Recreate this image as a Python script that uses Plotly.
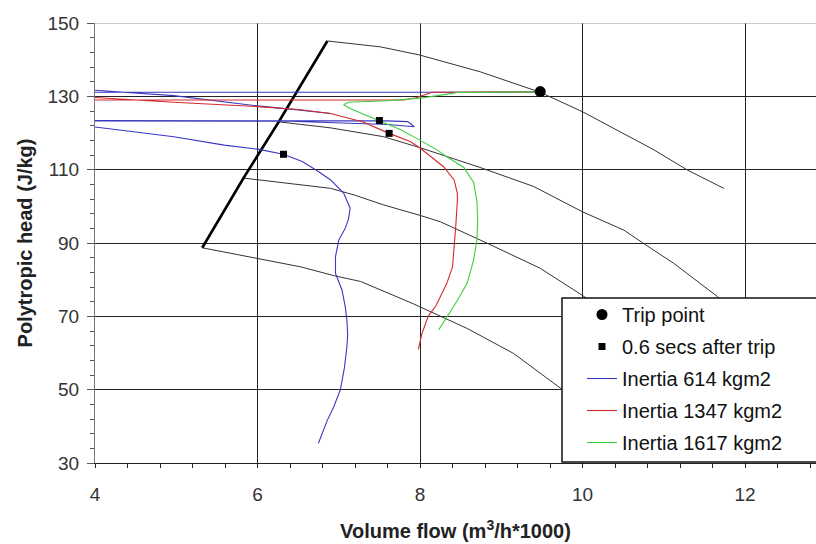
import plotly.graph_objects as go

# ---------------- data ----------------
# Surge line (thick black)
surge_x = [5.32, 5.83, 6.26, 6.86]
surge_y = [88.7, 107.8, 123.0, 145.1]

# Speed lines (thin black)
speedA_x = [6.86, 7.51, 7.99, 8.74, 9.48, 10.0, 10.88, 11.29, 11.74]
speedA_y = [145.1, 143.5, 141.3, 136.7, 131.1, 125.8, 115.4, 109.9, 104.9]
speedB_x = [6.28, 6.9, 7.55, 8.0, 8.74, 9.4, 10.0, 10.51, 10.75, 11.12, 11.66, 11.95]
speedB_y = [123.0, 121.4, 119.0, 116.0, 110.6, 105.4, 98.5, 93.5, 89.9, 84.5, 75.4, 70.0]
speedC_x = [5.83, 6.53, 6.9, 7.19, 7.55, 7.99, 8.25, 8.83, 9.36, 9.48, 10.02, 10.3]
speedC_y = [107.7, 105.8, 104.9, 103.1, 100.4, 97.6, 95.8, 89.9, 84.5, 83.1, 75.4, 71.0]
speedD_x = [5.32, 6.0, 6.53, 6.94, 7.27, 7.92, 8.58, 9.15, 9.73, 10.1]
speedD_y = [88.7, 85.8, 83.5, 81.1, 79.5, 73.4, 66.7, 59.9, 50.4, 45.0]

# Inertia 614 kgm2 (blue)
blue_x = [9.45, 8.5, 3.9, 3.9, 4.97, 6.0, 6.5, 6.9, None,
          3.9, 6.5, 7.6, 7.85, 7.93, 7.6, 7.0, 6.4, 3.9, 3.9,
          4.97, 5.59, 6.0, 6.32, 6.55, 6.75, 6.9, 7.06, 7.14, 7.12, 7.08, 7.0,
          6.96, 6.96, 7.04, 7.08, 7.1, 7.11, 7.1, 7.07, 7.02, 6.94, 6.86, 6.75]
blue_y = [131.2, 131.1, 131.1, 131.8, 130.2, 127.4, 126.3, 125.3, None,
          123.4, 123.4, 123.3, 123.1, 121.7, 122.3, 122.8, 123.2, 123.3, 121.9,
          119.0, 116.7, 115.6, 114.2, 112.2, 109.5, 107.2, 103.6, 99.5, 96.5, 94.0, 90.8,
          86.3, 81.7, 77.2, 72.6, 69.0, 65.0, 61.7, 56.0, 50.0, 45.4, 41.7, 35.4]

# Inertia 1347 kgm2 (red)
red_x = [9.45, 8.15, 7.95, 7.8, 3.9, 3.9, 4.97, 6.0, 6.5, 6.9, 7.3, 7.62, 7.88,
         8.0, 8.29, 8.42, 8.46, 8.46, 8.44, 8.42, 8.40, 8.33, 8.2, 8.1, 8.02, 7.98]
red_y = [131.2, 131.1, 129.6, 129.0, 129.0, 129.8, 128.4, 127.2, 126.4, 125.3, 123.0, 119.9, 117.7,
         115.9, 110.8, 107.2, 103.5, 101.7, 94.5, 88.1, 83.5, 79.0, 73.0, 70.0, 65.0, 61.0]

# Inertia 1617 kgm2 (green)
green_x = [9.45, 8.45, 8.4, 8.0, 7.6, 7.12, 7.06, 7.14, 7.3, 7.5, 7.75, 7.97, 8.21,
           8.33, 8.54, 8.66, 8.70, 8.71, 8.70, 8.66, 8.58, 8.45, 8.36, 8.27, 8.23]
green_y = [131.2, 131.05, 130.8, 129.5, 128.8, 128.4, 127.7, 126.7, 125.2, 123.4, 121.0, 118.4, 115.4,
           113.5, 110.6, 106.5, 101.5, 96.0, 90.8, 85.4, 79.0, 74.0, 71.0, 68.0, 66.3]

trip_x = [9.48]
trip_y = [131.3]
after_x = [6.32, 7.5, 7.62]
after_y = [114.2, 123.4, 119.9]

x_ticks = [4, 6, 8, 10, 12]
y_ticks = [30, 50, 70, 90, 110, 130, 150]

FONT = "Liberation Sans, Arial, sans-serif"

fig = go.Figure()

for sx, sy in [(speedA_x, speedA_y), (speedB_x, speedB_y),
               (speedC_x, speedC_y), (speedD_x, speedD_y)]:
    fig.add_trace(go.Scatter(x=sx, y=sy, mode="lines", showlegend=False,
                             line=dict(color="#333333", width=1), hoverinfo="skip"))
fig.add_trace(go.Scatter(x=surge_x, y=surge_y, mode="lines", showlegend=False,
                         line=dict(color="#000000", width=2.6), hoverinfo="skip"))

fig.add_trace(go.Scatter(x=blue_x, y=blue_y, mode="lines", name="Inertia 614 kgm2",
                         line=dict(color="#3838c0", width=1.1), legendrank=3,
                         legendgroup="g3", connectgaps=False))
fig.add_trace(go.Scatter(x=red_x, y=red_y, mode="lines", name="Inertia 1347 kgm2",
                         line=dict(color="#d42a2a", width=1.1), legendrank=4,
                         legendgroup="g4"))
fig.add_trace(go.Scatter(x=green_x, y=green_y, mode="lines", name="Inertia 1617 kgm2",
                         line=dict(color="#3ccf3c", width=1.1), legendrank=5,
                         legendgroup="g5"))

fig.add_trace(go.Scatter(x=trip_x, y=trip_y, mode="markers", name="Trip point",
                         marker=dict(symbol="circle", size=11, color="black"),
                         legendrank=1, legendgroup="g1"))
fig.add_trace(go.Scatter(x=after_x, y=after_y, mode="markers", name="0.6 secs after trip",
                         marker=dict(symbol="square", size=7, color="black"),
                         legendrank=2, legendgroup="g2"))

W, H = 816, 544
L, R, T, B = 95, 0, 23, 81
pw = W - L - R
ph = H - T - B

def px_x(p):
    return (p - L) / pw

def px_y(p):
    return (H - B - p) / ph

fig.update_layout(
    width=W, height=H,
    margin=dict(l=L, r=R, t=T, b=B, pad=0),
    paper_bgcolor="white", plot_bgcolor="white",
    font=dict(family=FONT, color="#222222"),
    showlegend=True,
    legend=dict(
        x=px_x(582), y=px_y(295), xanchor="left", yanchor="top",
        bgcolor="rgba(0,0,0,0)", borderwidth=0,
        font=dict(family=FONT, size=20, color="#111111"),
        traceorder="grouped", tracegroupgap=3,
    ),
    xaxis=dict(
        range=[4, 4 + pw / 81.25],
        tickmode="array", tickvals=x_ticks, ticktext=[str(v) for v in x_ticks],
        ticks="outside", ticklen=4, tickcolor="#222222",
        ticklabelstandoff=10,
        tickfont=dict(family=FONT, size=19, color="#333333"),
        showgrid=True, gridcolor="#222222", gridwidth=1,
        showline=True, linecolor="#222222", linewidth=1.2,
        zeroline=False,
        minor=dict(dtick=0.4, tick0=4, ticks="outside", ticklen=4,
                   tickcolor="#222222", showgrid=False),
        title=dict(text="Volume flow (m<sup>3</sup>/h*1000)", standoff=20,
                   font=dict(family=FONT, size=20, color="#222222", weight="bold")),
        automargin=False,
    ),
    yaxis=dict(
        range=[30, 150],
        tickmode="array", tickvals=y_ticks, ticktext=[str(v) for v in y_ticks],
        ticks="outside", ticklen=7, tickcolor="#555555",
        ticklabelstandoff=4,
        tickfont=dict(family=FONT, size=19, color="#333333"),
        showgrid=True, gridcolor="#222222", gridwidth=1,
        showline=True, linecolor="#777777", linewidth=1.2,
        zeroline=False,
        minor=dict(dtick=4, tick0=30, ticks="outside", ticklen=4,
                   tickcolor="#555555", showgrid=False),
        title=dict(text="Polytropic head (J/kg)", standoff=9,
                   font=dict(family=FONT, size=20, color="#222222", weight="bold")),
        automargin=False,
    ),
    shapes=[
        dict(type="line", xref="paper", yref="y", x0=0, x1=1, y0=150, y1=150,
             line=dict(color="#999999", width=1.2), layer="above"),
        dict(type="rect", xref="paper", yref="paper",
             x0=px_x(562), x1=px_x(830), y0=px_y(462), y1=px_y(298),
             fillcolor="white", line=dict(color="#111111", width=1.5), layer="above"),
    ],
)

fig.write_html("out.html")
